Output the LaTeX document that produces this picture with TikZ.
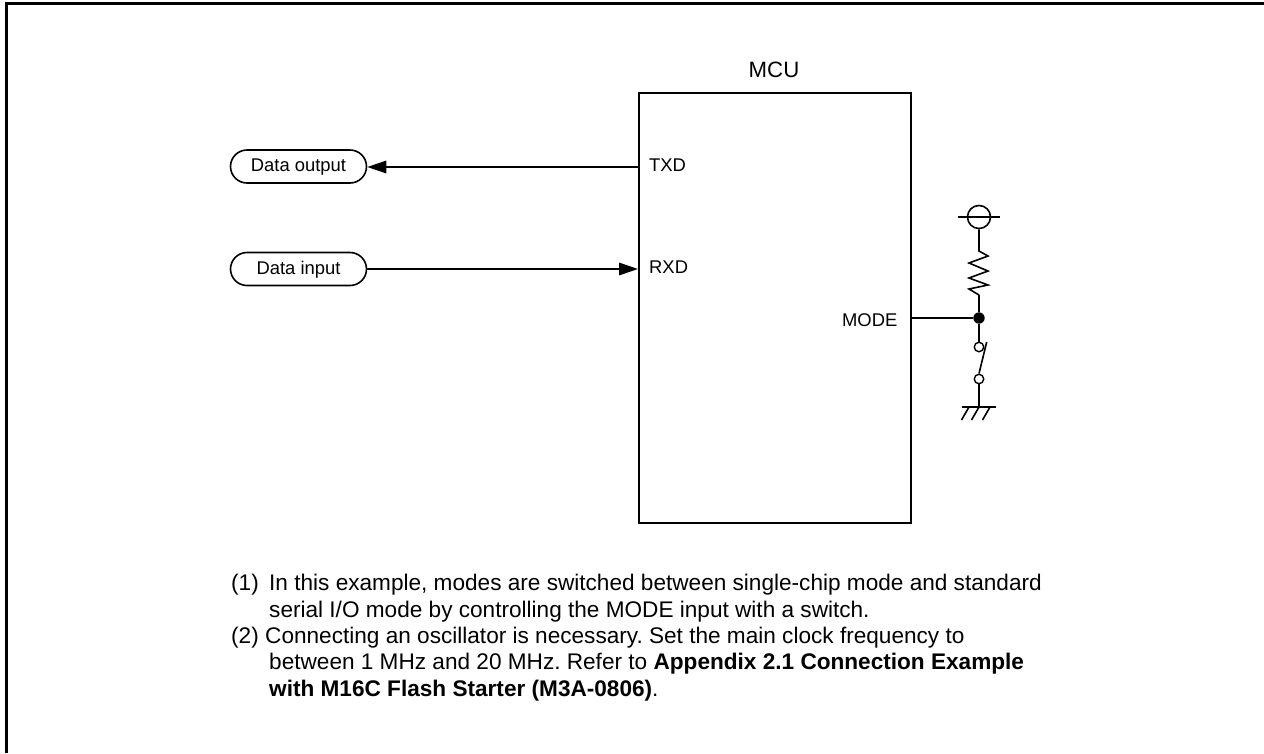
\documentclass[tikz,border=0pt]{standalone}
\usepackage{fontspec}
\setmainfont{Liberation Sans}
\usetikzlibrary{arrows.meta, shapes.misc}

\tikzset{
    wire/.style={line width=1.6pt},
    pinlabel/.style={font=\fontsize{18.4}{22}\selectfont, inner sep=0pt},
    terminal/.style={rounded rectangle, draw, line width=1.6pt, minimum width=136pt, minimum height=33pt, inner sep=0pt, text height=13pt, text depth=3pt, font=\fontsize{18.4}{22}\selectfont},
    noteline/.style={anchor=base west, inner sep=0pt, font=\fontsize{22.6}{26}\selectfont\frenchspacing},
    opencontact/.style={circle, draw, fill=white, line width=1.4pt, minimum size=9.5pt, inner sep=0pt},
}

\begin{document}
\begin{tikzpicture}[x=1pt, y=-1pt, >={Triangle[length=19pt, width=12.5pt]}]

    \useasboundingbox (0,0) rectangle (1264,753);

    % --- 1. Page frame ---
    \draw[line width=3pt] (6.5,753) -- (6.5,3.5) -- (1264,3.5);

    % --- 2. MCU ---
    \node[draw, line width=2pt, minimum width=272pt, minimum height=430pt, inner sep=0pt] (mcu) at (775,308) {};
    \node[font=\fontsize{22.2}{26}\selectfont, inner sep=0pt] (mculabel) at (774,70) {MCU};

    % Pin labels
    \node[pinlabel, anchor=west] (txd) at (649,165) {TXD};
    \node[pinlabel, anchor=west] (rxd) at (649,267.5) {RXD};
    \node[pinlabel, anchor=east] (mode) at (897.5,320.5) {MODE};

    % Pin ends on the package
    \coordinate (txdpin) at (639,167);
    \coordinate (rxdpin) at (638,269);
    \coordinate (modepin) at (911,318);

    % --- 3. Data terminals ---
    \node[terminal] (dataout) at (298.5,166.5) {Data output};
    \node[terminal] (datain) at (298.5,269) {Data input};

    \draw[wire, ->] (txdpin) -- (dataout.east |- txdpin);
    \draw[wire, ->] (datain.east) -- (rxdpin);

    % --- 4. MODE circuit ---
    % Supply
    \node[circle, draw, line width=1.6pt, minimum size=23pt, inner sep=0pt] (supply) at (979,217) {};
    \coordinate (supplyleft) at (958,217);
    \coordinate (supplyright) at (1000,217);
    \draw[wire] (supplyleft) -- (supplyright);

    % Pull-up resistor
    \coordinate (restop) at (979,251);
    \coordinate (resbot) at (979,295);
    \draw[wire] (supply) -- (restop) -- ++(9,5) -- ++(-19,7) -- ++(19,8) -- ++(-19,7) -- ++(19,7) -- ++(-19,4) -- (resbot);

    % Junction
    \node[circle, fill, minimum size=11.4pt, inner sep=0pt] (junction) at (979,318) {};
    \draw[wire] (resbot) -- (junction);
    \draw[wire] (modepin) -- (junction);

    % Switch
    \node[opencontact] (swtop) at (979,347) {};
    \node[opencontact] (swbot) at (979,379) {};
    \coordinate (swtip) at (986.7,342);
    \draw[wire] (junction) -- (swtop);
    \draw[wire] (swbot.north) -- (swtip);

    % Ground
    \coordinate (gnd) at (979,407);
    \coordinate (gndleft) at (962,407);
    \coordinate (gndright) at (996,407);
    \draw[wire] (swbot) -- (gnd);
    \draw[wire] (gndleft) -- (gndright);
    \foreach \x in {969, 979, 990}
        \draw[wire] (\x,407) -- ++(-7.5,13);

    % --- 5. Notes ---
    \node[noteline] (numa) at (231,590) {(1)};
    \node[noteline] (notea) at (269,590) {In this example, modes are switched between single-chip mode and standard};
    \node[noteline] (noteb) at (269,617) {serial I/O mode by controlling the MODE input with a switch.};
    \node[noteline] (numb) at (231,643) {(2)};
    \node[noteline] (notec) at (265,643) {Connecting an oscillator is necessary. Set the main clock frequency to};
    \node[noteline] (noted) at (269,669) {between 1 MHz and 20 MHz. Refer to \textbf{Appendix 2.1 Connection Example}};
    \node[noteline] (notee) at (269,696) {\textbf{with M16C Flash Starter (M3A-0806)}.};

\end{tikzpicture}
\end{document}
